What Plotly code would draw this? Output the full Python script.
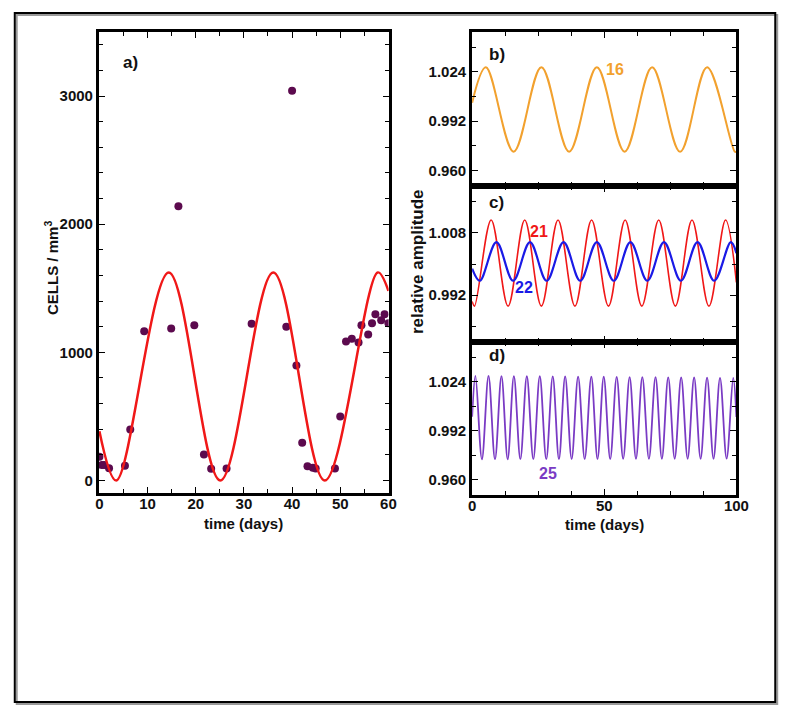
import plotly.graph_objects as go

W, H = 800, 714
FONT = "Liberation Sans"

# ---------------- data ----------------
# panel a: measured cell counts (time in days, cells / mm^3)
cells_t = [0.0, 0.5, 1.0, 2.0, 5.3, 6.4, 9.3, 14.9, 16.4, 19.7,
           21.7, 23.2, 26.4, 31.6, 38.8, 40.0, 40.9, 42.1, 43.2, 44.3,
           44.9, 48.9, 50.0, 51.2, 52.4, 53.8, 54.4, 55.8, 56.6, 57.3,
           58.5, 59.2, 60.0]
cells_v = [185, 120, 120, 96, 115, 398, 1164, 1187, 2140, 1211,
           203, 91, 94, 1224, 1200, 3041, 898, 294, 112, 99,
           94, 94, 500, 1084, 1107, 1076, 1211, 1140, 1227, 1297,
           1250, 1297, 1227]
# panel a: fitted curve (start, extrema, end)
fit_t = [0, 3.5, 14.4, 25.1, 36.1, 46.8, 57.8, 60]
fit_v = [385, 0, 1624, 0, 1624, 0, 1624, 1480]

# panel b: curve 16 (start, extrema, end)
b_t = [0, 5.2, 15.7, 26.2, 36.7, 47.2, 57.7, 68.1, 78.7, 88.9, 99.4, 100]
b_v = [1.0040, 1.0270, 0.9722, 1.0270, 0.9722, 1.0270, 0.9722, 1.0270,
       0.9722, 1.0270, 0.9722, 0.9723]

# panel c: curve 21 (red)
c21_t = [0, 0.9, 7.2, 13.6, 19.9, 26.2, 32.5, 38.9, 45.2, 51.6, 57.9,
         64.2, 70.6, 76.9, 83.2, 89.6, 95.9, 100]
c21_v = [0.9904, 0.9892, 1.0113, 0.9892, 1.0113, 0.9892, 1.0113, 0.9892,
         1.0113, 0.9892, 1.0113, 0.9892, 1.0113, 0.9892, 1.0113, 0.9892,
         1.0113, 0.9953]
# panel c: curve 22 (blue)
c22_t = [0, 2.9, 9.2, 15.5, 21.9, 28.2, 34.6, 40.9, 47.2, 53.6, 59.9,
         66.3, 72.6, 79.0, 85.3, 91.6, 97.9, 100]
c22_v = [0.9988, 0.9957, 1.0056, 0.9957, 1.0056, 0.9957, 1.0056, 0.9957,
         1.0056, 0.9957, 1.0056, 0.9957, 1.0056, 0.9957, 1.0056, 0.9957,
         1.0056, 1.0028]

# panel d: curve 25 (purple) - start, peaks, troughs, end
d_start = (0.0, 1.0012)
d_end = (100.0, 1.0010)
d_peak_t = [1.25, 6.2, 11.1, 15.8, 20.7, 25.6, 30.5, 35.2, 40.1, 45.1, 49.8,
            54.7, 59.6, 64.4, 69.4, 74.2, 79.1, 84.0, 88.9, 93.8, 98.8]
d_peak_v = [1.0278, 1.0278, 1.0277, 1.0277, 1.0276, 1.0276, 1.0275, 1.0275,
            1.0274, 1.0273, 1.0273, 1.0272, 1.0271, 1.0271, 1.0270, 1.0269,
            1.0268, 1.0268, 1.0267, 1.0266, 1.0265]
d_trough_t = [3.7, 8.65, 13.45, 18.25, 23.15, 28.05, 32.85, 37.65, 42.6, 47.45,
              52.25, 57.15, 62.0, 66.9, 71.8, 76.65, 81.55, 86.45, 91.35, 96.3]
d_trough_v = [0.9733, 0.9733, 0.9733, 0.9734, 0.9734, 0.9734, 0.9734, 0.9735,
              0.9735, 0.9735, 0.9735, 0.9736, 0.9736, 0.9736, 0.9736, 0.9737,
              0.9737, 0.9737, 0.9737, 0.9738]

pts_d = sorted([d_start, d_end] + list(zip(d_peak_t, d_peak_v)) +
               list(zip(d_trough_t, d_trough_v)))
d_t = [p[0] for p in pts_d]
d_v = [p[1] for p in pts_d]

# tick labels
a_xticks = [0, 10, 20, 30, 40, 50, 60]
a_yticks = [0, 1000, 2000, 3000]
r_xticks = [0, 50, 100]
bd_yticks = [0.960, 0.992, 1.024]
c_yticks = [0.992, 1.008]

# ---------------- layout helpers ----------------
def fx(px):
    return px / W

def fy(py):
    return 1 - py / H

RED = "#F01818"
ORANGE = "#F2A12E"
BLUE = "#1A1AE6"
PURPLE = "#7A3BC4"
DOT = "#5C0A4E"


def axis(**kw):
    d = dict(showline=True, linecolor="black", linewidth=3, mirror="allticks",
             ticks="inside", ticklen=6, tickwidth=1.3, tickcolor="black",
             showgrid=False, zeroline=False,
             tickfont=dict(family=FONT, size=15, color="#111111", weight="bold"))
    d.update(kw)
    return d


def minor(**kw):
    d = dict(ticks="inside", ticklen=4, tickwidth=1.2, tickcolor="black",
             showgrid=False)
    d.update(kw)
    return d


fig = go.Figure()

# panel a
fig.add_trace(go.Scatter(x=cells_t, y=cells_v, mode="markers",
                         marker=dict(color=DOT, size=8), xaxis="x", yaxis="y",
                         showlegend=False))
fig.add_trace(go.Scatter(x=fit_t, y=fit_v, mode="lines",
                         line=dict(color=RED, width=2.5, shape="spline",
                                   smoothing=1),
                         xaxis="x", yaxis="y", showlegend=False))
# panel b
fig.add_trace(go.Scatter(x=b_t, y=b_v, mode="lines",
                         line=dict(color=ORANGE, width=2, shape="spline",
                                   smoothing=1),
                         xaxis="x2", yaxis="y2", showlegend=False))
# panel c
fig.add_trace(go.Scatter(x=c21_t, y=c21_v, mode="lines",
                         line=dict(color=RED, width=1.6, shape="spline",
                                   smoothing=1),
                         xaxis="x3", yaxis="y3", showlegend=False))
fig.add_trace(go.Scatter(x=c22_t, y=c22_v, mode="lines",
                         line=dict(color=BLUE, width=2.2, shape="spline",
                                   smoothing=1),
                         xaxis="x3", yaxis="y3", showlegend=False))
# panel d
fig.add_trace(go.Scatter(x=d_t, y=d_v, mode="lines",
                         line=dict(color=PURPLE, width=1.8, shape="spline",
                                   smoothing=1),
                         xaxis="x4", yaxis="y4", showlegend=False))

ax_dom = [fx(97), fx(393)]
r_dom = [fx(478.3), fx(748.3)]

r_minor_x = [12.5, 25, 37.5, 62.5, 75, 87.5]
bd_minor_y = [0.976, 1.008, 1.040]
c_minor_y = [0.984, 1.000, 1.016]

fig.update_layout(
    width=W, height=H, autosize=False,
    margin=dict(l=0, r=0, t=0, b=0),
    paper_bgcolor="white", plot_bgcolor="white",
    font=dict(family=FONT, color="#111111"),
    xaxis=axis(domain=ax_dom, anchor="y", range=[-0.1, 60.05],
               tickmode="array", tickvals=a_xticks,
               ticktext=[str(v) for v in a_xticks],
               minor=minor(tickmode="linear", tick0=0, dtick=5),
               ticklabelstandoff=-5),
    yaxis=axis(domain=[fy(493.3), fy(32)], anchor="x", range=[-100, 3500],
               tickmode="array", tickvals=a_yticks,
               ticktext=[str(v) for v in a_yticks],
               minor=minor(tickmode="linear", tick0=0, dtick=200)),
    xaxis2=axis(domain=r_dom, anchor="y2", range=[0, 100],
                tickmode="array", tickvals=r_xticks, showticklabels=False,
                minor=minor(tickmode="array", tickvals=r_minor_x)),
    yaxis2=axis(domain=[fy(186), fy(31.7)], anchor="x2", range=[0.95, 1.05],
                tickmode="array", tickvals=bd_yticks,
                ticktext=["%.3f" % v for v in bd_yticks],
                minor=minor(tickmode="array", tickvals=bd_minor_y)),
    xaxis3=axis(domain=r_dom, anchor="y3", range=[0, 100],
                tickmode="array", tickvals=r_xticks, showticklabels=False,
                minor=minor(tickmode="array", tickvals=r_minor_x)),
    yaxis3=axis(domain=[fy(342), fy(186)], anchor="x3", range=[0.98, 1.02],
                tickmode="array", tickvals=c_yticks,
                ticktext=["%.3f" % v for v in c_yticks],
                minor=minor(tickmode="array", tickvals=c_minor_y)),
    xaxis4=axis(domain=r_dom, anchor="y4", range=[0, 100],
                tickmode="array", tickvals=r_xticks,
                ticktext=[str(v) for v in r_xticks],
                minor=minor(tickmode="array", tickvals=r_minor_x),
                ticklabelstandoff=-5),
    yaxis4=axis(domain=[fy(495), fy(342)], anchor="x4", range=[0.95, 1.05],
                tickmode="array", tickvals=bd_yticks,
                ticktext=["%.3f" % v for v in bd_yticks],
                minor=minor(tickmode="array", tickvals=bd_minor_y)),
)

def note(text, px, py, size=16, color="#111111", angle=0):
    fig.add_annotation(text=text, x=fx(px), y=fy(py), xref="paper",
                       yref="paper", showarrow=False, textangle=angle,
                       font=dict(family=FONT, size=size, color=color,
                                 weight="bold"),
                       xanchor="center", yanchor="middle")

note("a)", 129, 62, 17)
note("b)", 504, 55, 17)
note("c)", 503, 202, 17)
note("d)", 504, 355, 17)
note("16", 624, 70, 16, ORANGE)
note("21", 547, 232, 16, RED)
note("22", 531, 287, 16, BLUE)
note("25", 556, 473, 16, PURPLE)
note("time (days)", 245, 523, 15)
note("time (days)", 614, 524, 15)
note("CELLS / mm<sup>3</sup>", 48, 268, 15, angle=-90)
note("relative amplitude", 422, 262, 17, angle=-90)

# outer frame with a light shadow
fig.add_shape(type="rect", xref="paper", yref="paper",
              x0=fx(13), x1=fx(790), y0=fy(704), y1=fy(15),
              line=dict(color="#9a9a9a", width=2), layer="below")
fig.add_shape(type="rect", xref="paper", yref="paper",
              x0=fx(11), x1=fx(788), y0=fy(702), y1=fy(13),
              line=dict(color="black", width=2), fillcolor="rgba(0,0,0,0)")

fig.write_html("out.html", config={"displayModeBar": False},
               post_script="document.body.style.margin='0';"
                           "document.body.style.overflow='hidden';")
